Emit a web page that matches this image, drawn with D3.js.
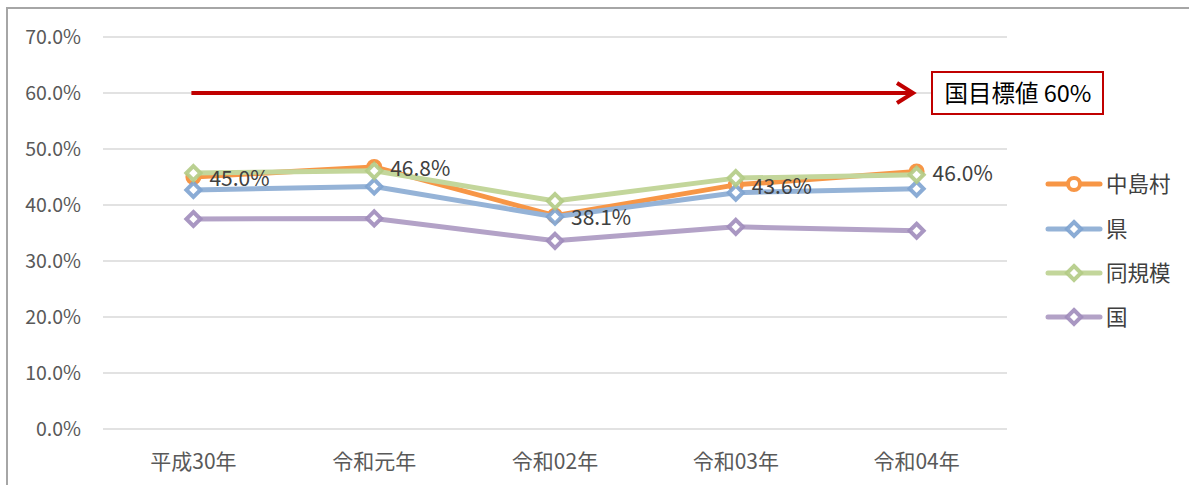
<!DOCTYPE html>
<html>
<head>
    <meta charset="utf-8">
    <script src="https://d3js.org/d3.v7.min.js"></script>
    <style>
        body { margin: 0; background: #fff; }
        svg { display: block; }
        text { font-family: "Noto Sans CJK JP", "Noto Sans", sans-serif; }
        .grid line { stroke: #d9d9d9; stroke-width: 1.5px; }
        .tick-label { fill: #595959; }
    </style>
</head>
<body>
    <svg></svg>
    <script>
        // データ
        const years = ["平成30年", "令和元年", "令和02年", "令和03年", "令和04年"];
        const nakajima = [45.0, 46.8, 38.1, 43.6, 46.0];
        const ken = [42.7, 43.3, 37.9, 42.2, 42.9];
        const doukibo = [45.7, 46.1, 40.7, 44.8, 45.4];
        const kuni = [37.5, 37.6, 33.6, 36.1, 35.4];
        const yTicks = [0, 10, 20, 30, 40, 50, 60, 70];
        const target = 60;
        const targetLabel = "国目標値 60%";

        const series = [
            { name: "中島村", values: nakajima, color: "#f79646", marker: "circle", labels: true },
            { name: "県", values: ken, color: "#95b3d7", mark: "#7ea3d0", marker: "diamond" },
            { name: "同規模", values: doukibo, color: "#c3d69b", mark: "#b2cb85", marker: "diamond" },
            { name: "国", values: kuni, color: "#b3a2c7", mark: "#a08cbb", marker: "diamond" }
        ];

        const width = 1189, height = 485;
        const plot = { left: 103, right: 1007, top: 37, bottom: 429 };

        const svg = d3.select("svg")
            .attr("width", width)
            .attr("height", height);

        // 枠
        svg.append("path")
            .attr("d", `M7,${height}V8H${width}`)
            .attr("fill", "none")
            .attr("stroke", "#a6a6a6")
            .attr("stroke-width", 2);

        const x = d3.scaleBand()
            .domain(years)
            .range([plot.left, plot.right]);

        const y = d3.scaleLinear()
            .domain([0, 70])
            .range([plot.bottom, plot.top]);

        const cx = d => x(d) + x.bandwidth() / 2;

        // グリッド
        svg.append("g")
            .attr("class", "grid")
            .selectAll("line")
            .data(yTicks)
            .join("line")
            .attr("x1", plot.left)
            .attr("x2", plot.right)
            .attr("y1", d => y(d))
            .attr("y2", d => y(d));

        // Y軸ラベル
        svg.append("g")
            .selectAll("text")
            .data(yTicks)
            .join("text")
            .attr("class", "tick-label")
            .attr("font-size", 19.5)
            .attr("x", 81)
            .attr("y", d => y(d))
            .attr("dy", "0.35em")
            .attr("text-anchor", "end")
            .text(d => d.toFixed(1) + "%");

        // X軸ラベル
        svg.append("g")
            .selectAll("text")
            .data(years)
            .join("text")
            .attr("class", "tick-label")
            .attr("font-size", 21)
            .attr("x", d => cx(d))
            .attr("y", 462)
            .attr("dy", "0.35em")
            .attr("text-anchor", "middle")
            .text(d => d);

        // 目標線（矢印）
        const arrowY = y(target);
        const arrowEnd = 913;
        svg.append("line")
            .attr("x1", cx(years[0]) - 2)
            .attr("x2", arrowEnd)
            .attr("y1", arrowY)
            .attr("y2", arrowY)
            .attr("stroke", "#c00000")
            .attr("stroke-width", 4);
        svg.append("path")
            .attr("d", `M${arrowEnd - 16},${arrowY - 10}L${arrowEnd},${arrowY}L${arrowEnd - 16},${arrowY + 10}`)
            .attr("fill", "none")
            .attr("stroke", "#c00000")
            .attr("stroke-width", 4)
            .attr("stroke-linejoin", "miter");

        svg.append("rect")
            .attr("x", 932)
            .attr("y", 72)
            .attr("width", 171)
            .attr("height", 42)
            .attr("fill", "#fff")
            .attr("stroke", "#c00000")
            .attr("stroke-width", 2);
        svg.append("text")
            .attr("x", 1018)
            .attr("y", 94)
            .attr("dy", "0.35em")
            .attr("text-anchor", "middle")
            .attr("font-size", 23.5)
            .attr("fill", "#000")
            .text(targetLabel);

        // 系列
        const line = d3.line()
            .x((d, i) => cx(years[i]))
            .y(d => y(d));

        function drawMarker(g, s, px, py) {
            if (s.marker === "circle") {
                g.append("circle")
                    .attr("cx", px).attr("cy", py).attr("r", 6)
                    .attr("fill", "#fff")
                    .attr("stroke", s.color)
                    .attr("stroke-width", 4);
            } else {
                const r = 7;
                g.append("path")
                    .attr("d", `M${px},${py - r}L${px + r},${py}L${px},${py + r}L${px - r},${py}Z`)
                    .attr("fill", "#fff")
                    .attr("stroke", s.mark)
                    .attr("stroke-width", 4)
                    .attr("stroke-opacity", 0.9);
            }
        }

        series.forEach(s => {
            const g = svg.append("g");
            g.append("path")
                .datum(s.values)
                .attr("d", line)
                .attr("fill", "none")
                .attr("stroke", s.color)
                .attr("stroke-width", 5)
                .attr("stroke-linejoin", "round");
            s.values.forEach((v, i) => drawMarker(g, s, cx(years[i]), y(v)));
        });

        // データラベル
        const nk = series[0];
        svg.append("g")
            .selectAll("text")
            .data(nk.values)
            .join("text")
            .attr("x", (d, i) => cx(years[i]) + 16)
            .attr("y", d => y(d) + 2)
            .attr("dy", "0.35em")
            .attr("font-size", 21)
            .attr("fill", "#404040")
            .text(d => d.toFixed(1) + "%");

        // 凡例
        const legend = svg.append("g");
        const legendY = [184, 229, 273, 317];
        series.forEach((s, i) => {
            const ly = legendY[i];
            legend.append("line")
                .attr("x1", 1048).attr("x2", 1100)
                .attr("y1", ly).attr("y2", ly)
                .attr("stroke", s.color)
                .attr("stroke-width", 5)
                .attr("stroke-linecap", "round");
            drawMarker(legend, s, 1074, ly);
            legend.append("text")
                .attr("x", 1106)
                .attr("y", ly)
                .attr("dy", "0.35em")
                .attr("font-size", 21.5)
                .attr("fill", "#404040")
                .text(s.name);
        });
    </script>
</body>
</html>
